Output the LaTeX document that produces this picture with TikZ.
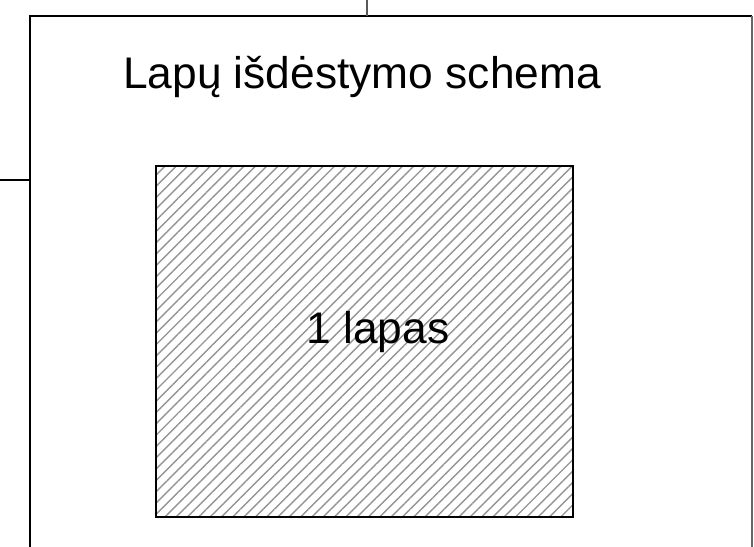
\documentclass[tikz,border=0pt]{standalone}
\usepackage{fontspec}
\setmainfont{Liberation Sans}
\usetikzlibrary{patterns.meta}
\tikzset{
  frame/.style={draw=black, line width=2pt},
  sheet/.style={draw=black, line width=2pt, rectangle, minimum width=417pt, minimum height=351pt, inner sep=0pt,
    pattern={Lines[angle=45, distance=8pt, line width=1.4pt]}, pattern color=black!42},
  lbl/.style={font=\fontsize{44.3}{50}\selectfont, inner sep=0pt},
}
\begin{document}
\begin{tikzpicture}[x=1pt,y=-1pt]
\useasboundingbox (0,0) rectangle (754,546);
\clip (0,0) rectangle (754,546);
\fill[white] (0,0) rectangle (754,546);
% outer frame
\coordinate (tl) at (30,16);
\coordinate (tr) at (752,16);
\coordinate (bl) at (30,560);
\coordinate (br) at (752,560);
\draw[frame] (bl) -- (tl) -- (tr);
\draw[draw=black!60, line width=1.2pt] (tr) -- (br);
% connector stubs
\coordinate (topstub) at (367,0);
\coordinate (topjoin) at (367,16);
\coordinate (leftstub) at (0,180);
\coordinate (leftjoin) at (30,180);
\draw[draw=black!65, line width=1.2pt] (topstub) -- (topjoin);
\draw[draw=black, line width=1.5pt] (leftstub) -- (leftjoin);
% title
\node[lbl, anchor=base west] (title) at (123,88) {Lapų išdėstymo schema};
% sheet
\node[sheet] (sheet) at (364.5,341) {};
\node[lbl, anchor=base] (sheetlbl) at (378,343) {1 lapas};
\end{tikzpicture}
\end{document}
